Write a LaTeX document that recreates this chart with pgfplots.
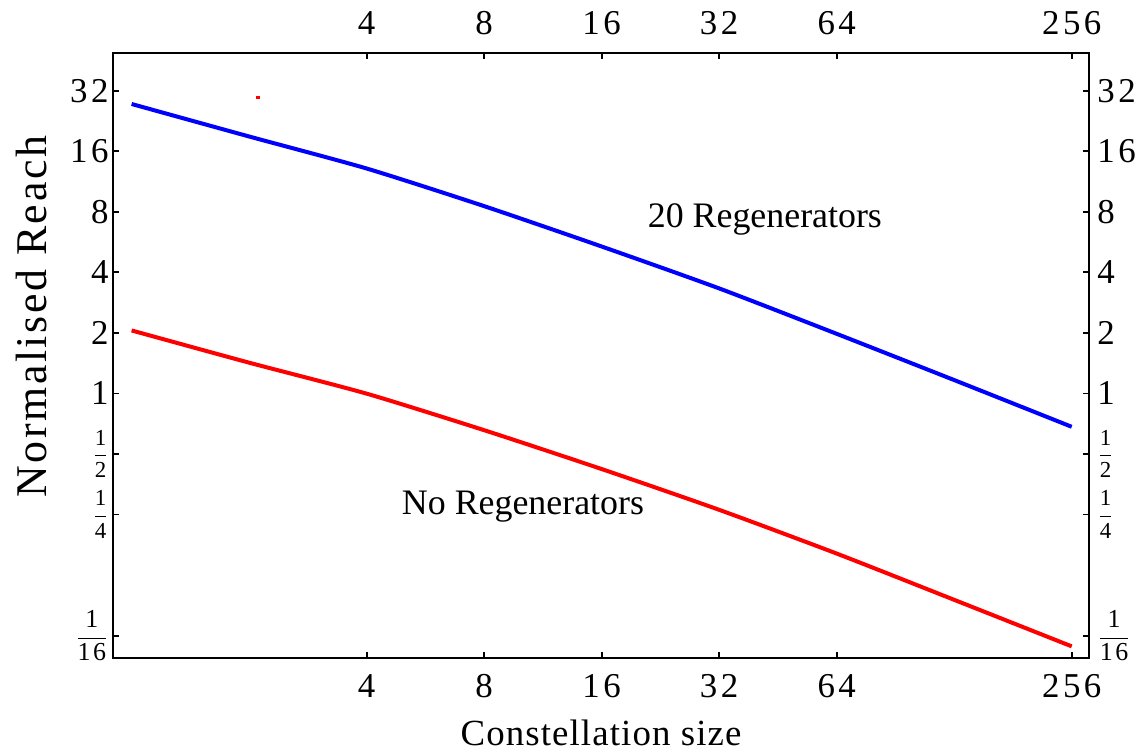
\documentclass[border=0pt]{standalone}
\usepackage{pgfplots}
\pgfplotsset{compat=1.18}
\usepackage{fontspec}
\setmainfont{Liberation Serif}
\newfontfamily\tickfont[LetterSpace=10]{Liberation Serif}
\newfontfamily\ylabfont[LetterSpace=6]{Liberation Serif}
\newfontfamily\xlabfont[LetterSpace=3]{Liberation Serif}
\newcommand{\fr}[3]{{\fontsize{#3}{#3}\tickfont$\displaystyle\frac{\mbox{#1}}{\mbox{#2}}$}}
\pgfplotsset{
  every axis/.append style={
    scale only axis, width=488bp, height=302.5bp,
    xmin=0.896, xmax=283.5, ymin=0.0484, ymax=49.3,
    xtick={4,8,16,32,64,256},
    xticklabels={4,8,16,32,64,256},
    ytick={0.0625,0.25,0.5,1,2,4,8,16,32},
    yticklabels={\fr{1}{16}{13},\fr{1}{4}{11.5},\fr{1}{2}{11.5},1,2,4,8,16,32},
    tick align=inside, major tick length=3bp,
    tick style={black, line width=0.9bp},
    axis line style={black, line width=1.4bp},
    ticklabel style={font=\fontsize{17.5}{20}\tickfont},
    clip=false,
  }
}
\begin{document}
\begin{tikzpicture}
\path[use as bounding box] (-56.5bp,-47.5bp) rectangle (511bp,329bp);
\begin{axis}[at={(0,0)}, anchor=south west,
  xmode=log, ymode=log, log basis x=2, log basis y=2,
  xticklabel style={yshift=-7bp, inner sep=1bp},
  yticklabel style={inner sep=2bp},
  xlabel={Constellation size},
  ylabel={Normalised Reach},
  xlabel style={font=\fontsize{18.5}{20}\xlabfont, inner sep=1bp, at={(axis description cs:0.5,-0.124)}, anchor=center},
  ylabel style={font=\fontsize{22}{24}\ylabfont, at={(axis description cs:-0.083,0.564)}, anchor=center},
]
\addplot[blue, line width=2bp, smooth, tension=0.4] coordinates {
(1,27.5) (2,18.96) (4,13.14) (8,8.54) (16,5.38) (32,3.33) (64,1.98) (128,1.166) (256,0.683)};
\addplot[red, line width=2bp, smooth, tension=0.4] coordinates {
(1,2.058) (2,1.423) (4,0.998) (8,0.657) (16,0.421) (32,0.264) (64,0.160) (128,0.0942) (256,0.0553)};
\addplot[red, only marks, mark=square*, mark size=0.6bp] coordinates {(2.107,29.7)};
\node[font=\fontsize{18}{20}\selectfont] at (axis cs:41.9,7.34) {20 Regenerators};
\node[font=\fontsize{18}{20}\selectfont] at (axis cs:10.06,0.274) {No Regenerators};
\end{axis}
\begin{axis}[at={(0,0)}, anchor=south west,
  xmode=log, ymode=log, log basis x=2, log basis y=2,
  xticklabel pos=right, yticklabel pos=right,
  xticklabel style={yshift=8bp, inner sep=1bp},
  yticklabel style={xshift=2bp, inner sep=2bp},
]
\end{axis}
\end{tikzpicture}
\end{document}
